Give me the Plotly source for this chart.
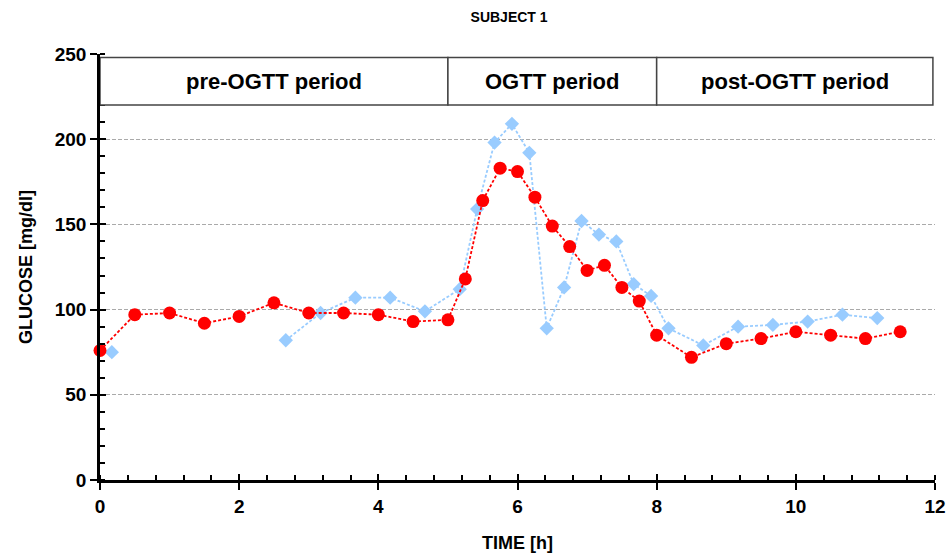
import plotly.graph_objects as go

# Glucose readings, subject 1
red_time = [0, 0.5, 1, 1.5, 2, 2.5, 3, 3.5, 4, 4.5, 5,
            5.25, 5.5, 5.75, 6, 6.25, 6.5, 6.75, 7, 7.25, 7.5, 7.75, 8,
            8.5, 9, 9.5, 10, 10.5, 11, 11.5]
red_glucose = [76, 97, 98, 92, 96, 104, 98, 98, 97, 93, 94,
               118, 164, 183, 181, 166, 149, 137, 123, 126, 113, 105, 85,
               72, 80, 83, 87, 85, 83, 87]

blue_time = [0.17, 1.42, 2.67, 3.17, 3.67, 4.17, 4.67, 5.17,
             5.42, 5.67, 5.92, 6.17, 6.42, 6.67, 6.92, 7.17, 7.42, 7.67, 7.92,
             8.17, 8.67, 9.17, 9.67, 10.17, 10.67, 11.17]
blue_glucose = [75, None, 82, 98, 107, 107, 99, 112,
                159, 198, 209, 192, 89, 113, 152, 144, 140, 115, 108,
                89, 79, 90, 91, 93, 97, 95]

# Study periods shown as a header band
periods = ["pre-OGTT period", "OGTT period", "post-OGTT period"]
period_start = [0, 5, 8]
period_end = [5, 8, 11.97]
band_low, band_high = 220, 248

x_ticks = [0, 2, 4, 6, 8, 10, 12]
y_ticks = [0, 50, 100, 150, 200, 250]

FONT = "Liberation Sans, Arial, sans-serif"
TICKFONT = dict(family=FONT, size=19, color="black", weight="bold")

fig = go.Figure()

fig.add_trace(go.Scatter(
    x=blue_time, y=blue_glucose, mode="lines+markers",
    line=dict(color="#99CCFF", width=1.8, dash="3px,2px"),
    marker=dict(symbol="diamond", size=11, color="#99CCFF"),
    connectgaps=False, showlegend=False, cliponaxis=False,
))
fig.add_trace(go.Scatter(
    x=red_time, y=red_glucose, mode="lines+markers",
    line=dict(color="#FF0000", width=1.8, dash="3px,2px"),
    marker=dict(symbol="circle", size=13, color="#FF0000"),
    showlegend=False, cliponaxis=False,
))
# empty trace so the overlay axes (inner half of the major ticks) are drawn
fig.add_trace(go.Scatter(x=[None], y=[None], xaxis="x2", yaxis="y2",
                         showlegend=False, hoverinfo="skip"))

for name, x0, x1 in zip(periods, period_start, period_end):
    fig.add_shape(type="rect", xref="x", yref="y", x0=x0, x1=x1,
                  y0=band_low, y1=band_high,
                  line=dict(color="#444444", width=1.5),
                  fillcolor="white", layer="above")
    fig.add_annotation(x=(x0 + x1) / 2, y=(band_low + band_high) / 2,
                       xref="x", yref="y", text=name,
                       showarrow=False,
                       font=dict(family=FONT, size=22, color="black",
                                 weight="bold"))

fig.update_layout(
    width=948, height=560,
    margin=dict(l=100, r=13, t=54, b=80),
    paper_bgcolor="white", plot_bgcolor="white",
    title=dict(text="SUBJECT 1", x=0.537, xanchor="center",
               y=0.97, yanchor="middle",
               font=dict(family=FONT, size=14, color="black", weight="bold")),
    font=dict(family=FONT, color="black"),
    xaxis=dict(
        range=[0, 12], tickvals=x_ticks, automargin=False,
        tickfont=TICKFONT,
        ticks="outside", ticklen=7, tickwidth=2, tickcolor="black",
        minor=dict(dtick=0.4, ticks="inside", ticklen=5, tickwidth=2,
                   tickcolor="black", showgrid=False),
        showline=True, linecolor="black", linewidth=2.5,
        showgrid=False, zeroline=False,
        title=dict(text="TIME [h]", standoff=21,
                   font=dict(family=FONT, size=18, color="black",
                             weight="bold")),
    ),
    yaxis=dict(
        range=[0, 250], tickvals=y_ticks, automargin=False,
        tickfont=TICKFONT,
        ticks="outside", ticklen=7, tickwidth=2, tickcolor="black",
        minor=dict(dtick=10, ticks="inside", ticklen=5, tickwidth=2,
                   tickcolor="black", showgrid=False),
        showline=True, linecolor="black", linewidth=2.5,
        showgrid=True, gridcolor="#AAAAAA", griddash="4px,2px", gridwidth=1,
        zeroline=False,
        title=dict(text="GLUCOSE [mg/dl]", standoff=18,
                   font=dict(family=FONT, size=18, color="black",
                             weight="bold")),
    ),
    xaxis2=dict(overlaying="x", anchor="y2", range=[0, 12], tickvals=x_ticks,
                ticks="inside", ticklen=6, tickwidth=2, tickcolor="black",
                showticklabels=False, showgrid=False, zeroline=False,
                showline=False, side="bottom"),
    yaxis2=dict(overlaying="y", anchor="x2", range=[0, 250], tickvals=y_ticks,
                ticks="inside", ticklen=6, tickwidth=2, tickcolor="black",
                showticklabels=False, showgrid=False, zeroline=False,
                showline=False, side="left"),
)

fig.write_html("out.html")
